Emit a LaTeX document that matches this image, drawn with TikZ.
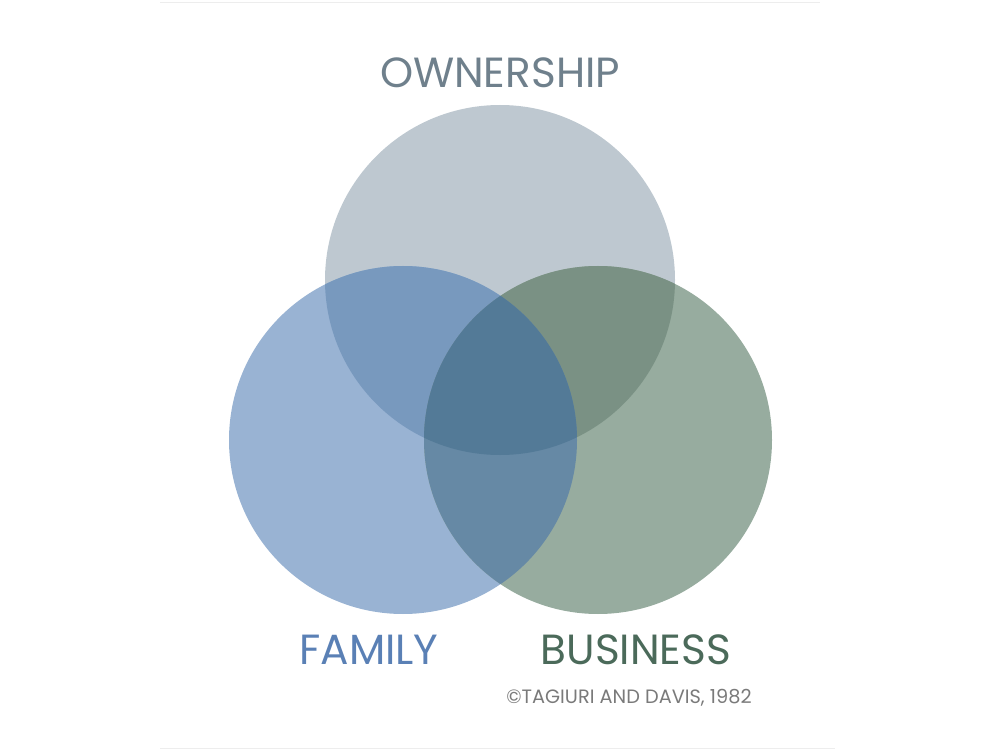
\documentclass[tikz,border=0pt]{standalone}
\usepackage{fontspec}
\setmainfont{Poppins}
\definecolor{ownfill}{HTML}{BEC8D0}
\definecolor{famfill}{HTML}{99B3D3}
\definecolor{busfill}{HTML}{97AC9F}
\definecolor{ownfam}{HTML}{7899BE}
\definecolor{ownbus}{HTML}{7A9184}
\definecolor{fambus}{HTML}{6689A5}
\definecolor{allthree}{HTML}{537A97}
\definecolor{owntext}{HTML}{6F808C}
\definecolor{famtext}{HTML}{5A80B5}
\definecolor{bustext}{HTML}{4B6A5A}
\definecolor{copytext}{HTML}{7A7A7A}

\begin{document}
\begin{tikzpicture}[label/.style={anchor=base, font=\fontsize{24}{24}\selectfont}]
	\useasboundingbox (0,0) rectangle (20,15);
	\draw[color=black!7] (3.2,14.96) -- (16.4,14.96);
	\draw[color=black!7] (3.2,0.04) -- (16.7,0.04);
	\coordinate (own) at (10,9.4);
	\coordinate (fam) at (8.06,6.2);
	\coordinate (bus) at (11.96,6.2);
	\fill[color=ownfill] (own) circle (3.5);
	\fill[color=famfill] (fam) circle (3.48);
	\fill[color=busfill] (bus) circle (3.48);
	\begin{scope}
		\clip (own) circle (3.5);
		\fill[color=ownfam] (fam) circle (3.48);
		\fill[color=ownbus] (bus) circle (3.48);
	\end{scope}
	\begin{scope}
		\clip (fam) circle (3.48);
		\fill[color=fambus] (bus) circle (3.48);
		\clip (own) circle (3.5);
		\fill[color=allthree] (bus) circle (3.48);
	\end{scope}
	\node[label, color=owntext] (ownership) at (10,13.24) {OWNERSHIP};
	\node[label, color=famtext] (family) at (7.38,1.72) {FAMILY};
	\node[label, color=bustext] (business) at (12.72,1.72) {BUSINESS};
	\node[anchor=base, color=copytext, font=\fontsize{11}{11}\selectfont] (source) at (12.58,0.94) {©TAGIURI AND DAVIS, 1982};
\end{tikzpicture}
\end{document}
